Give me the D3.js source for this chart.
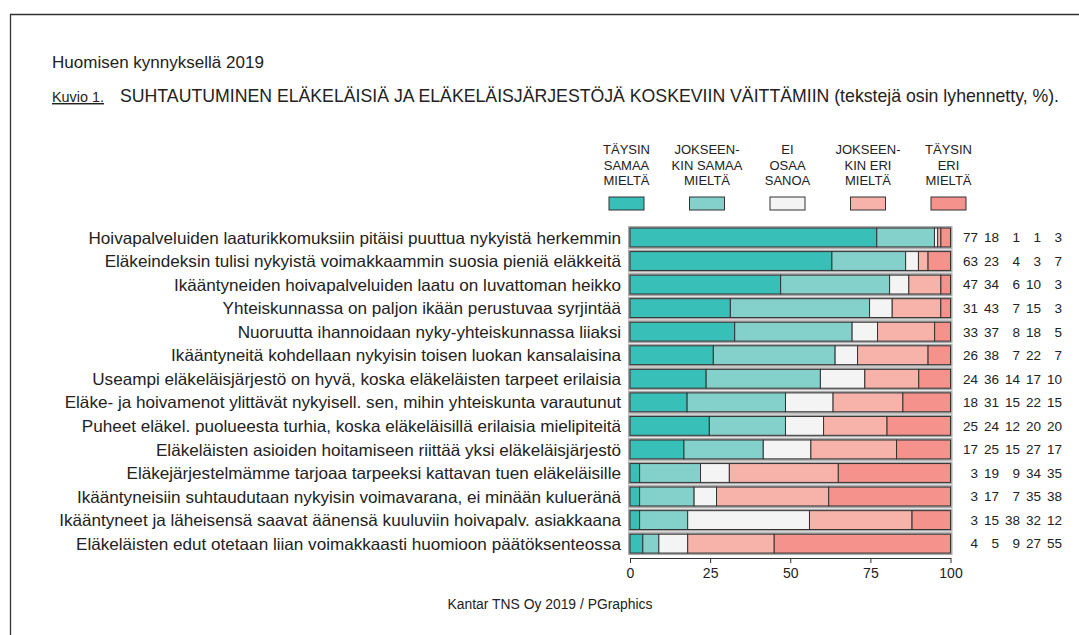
<!DOCTYPE html>
<html>
<head>
<meta charset="utf-8">
<script src="https://cdn.jsdelivr.net/npm/d3@7"></script>
<style>
  body { margin: 0; background: #fff; }
  text { font-family: "Liberation Sans", Arial, sans-serif; fill: #222; }
</style>
</head>
<body>
<div id="chart"></div>
<script>
// data
const statements = [
  "Hoivapalveluiden laaturikkomuksiin pitäisi puuttua nykyistä herkemmin",
  "Eläkeindeksin tulisi nykyistä voimakkaammin suosia pieniä eläkkeitä",
  "Ikääntyneiden hoivapalveluiden laatu on luvattoman heikko",
  "Yhteiskunnassa on paljon ikään perustuvaa syrjintää",
  "Nuoruutta ihannoidaan nyky-yhteiskunnassa liiaksi",
  "Ikääntyneitä kohdellaan nykyisin toisen luokan kansalaisina",
  "Useampi eläkeläisjärjestö on hyvä, koska eläkeläisten tarpeet erilaisia",
  "Eläke- ja hoivamenot ylittävät nykyisell. sen, mihin yhteiskunta varautunut",
  "Puheet eläkel. puolueesta turhia, koska eläkeläisillä erilaisia mielipiteitä",
  "Eläkeläisten asioiden hoitamiseen riittää yksi eläkeläisjärjestö",
  "Eläkejärjestelmämme tarjoaa tarpeeksi kattavan tuen eläkeläisille",
  "Ikääntyneisiin suhtaudutaan nykyisin voimavarana, ei minään kulueränä",
  "Ikääntyneet ja läheisensä saavat äänensä kuuluviin hoivapalv. asiakkaana",
  "Eläkeläisten edut otetaan liian voimakkaasti huomioon päätöksenteossa"
];
const taysinSamaa     = [77, 63, 47, 31, 33, 26, 24, 18, 25, 17,  3,  3,  3,  4];
const jokseenkinSamaa = [18, 23, 34, 43, 37, 38, 36, 31, 24, 25, 19, 17, 15,  5];
const eiOsaaSanoa     = [ 1,  4,  6,  7,  8,  7, 14, 15, 12, 15,  9,  7, 38,  9];
const jokseenkinEri   = [ 1,  3, 10, 15, 18, 22, 17, 22, 20, 27, 34, 35, 32, 27];
const taysinEri       = [ 3,  7,  3,  3,  5,  7, 10, 15, 20, 17, 35, 38, 12, 55];

const seriesKeys = ["ts", "js", "eos", "je", "te"];
const legendLabels = [
  ["TÄYSIN", "SAMAA", "MIELTÄ"],
  ["JOKSEEN-", "KIN SAMAA", "MIELTÄ"],
  ["EI", "OSAA", "SANOA"],
  ["JOKSEEN-", "KIN ERI", "MIELTÄ"],
  ["TÄYSIN", "ERI", "MIELTÄ"]
];
const colors = ["#38bfb7", "#84d1cc", "#f4f4f4", "#f7b3a9", "#f4928b"];
const axisTicks = [0, 25, 50, 75, 100];

const W = 1079, H = 635;

const svg = d3.select("#chart")
    .append("svg")
    .attr("width", W)
    .attr("height", H);

// frame (runs off the right and bottom edge)
svg.append("path")
    .attr("d", "M10.5," + H + "V14.5H" + W)
    .attr("fill", "none")
    .attr("stroke", "#333")
    .attr("stroke-width", 1.3);

// fit a text to a target width by adjusting font size
function fit(sel, target) {
  const fs = parseFloat(sel.attr("font-size"));
  const len = sel.node().getComputedTextLength();
  sel.attr("font-size", fs * target / len);
  return fs * target / len;
}

var sup = svg.append("text").attr("x", 52).attr("y", 68).attr("font-size", 16)
    .text("Huomisen kynnyksellä 2019");
fit(sup, 212);

var kuvio = svg.append("text").attr("x", 52).attr("y", 102).attr("font-size", 14)
    .attr("text-decoration", "underline")
    .text("Kuvio 1.");
fit(kuvio, 52);

var title = svg.append("text").attr("x", 120).attr("y", 102).attr("font-size", 15)
    .text("SUHTAUTUMINEN ELÄKELÄISIÄ JA ELÄKELÄISJÄRJESTÖJÄ KOSKEVIIN VÄITTÄMIIN (tekstejä osin lyhennetty, %).");
fit(title, 940);

// data table
const rows = statements.map((s, i) => ({
  label: s, ts: taysinSamaa[i], js: jokseenkinSamaa[i], eos: eiOsaaSanoa[i],
  je: jokseenkinEri[i], te: taysinEri[i]
}));
rows.forEach(d => {
  const sum = d3.sum(seriesKeys, k => d[k]);
  seriesKeys.forEach(k => d["n_" + k] = d[k] / sum * 100);
});

const x = d3.scaleLinear().domain([0, 100]).range([630, 950.5]);
const y = d3.scaleBand().domain(statements).range([225.7, 555.4])
    .paddingInner(0.2).paddingOuter(0.1);
const color = d3.scaleOrdinal().domain(seriesKeys).range(colors);

const stack = d3.stack().keys(seriesKeys.map(k => "n_" + k));
const stacked = stack(rows);

// legend
const lx = d3.scalePoint().domain(seriesKeys).range([626.5, 948.5]);
const leg = svg.append("g").selectAll("g").data(seriesKeys).enter().append("g");
leg.each(function(k, i) {
  const g = d3.select(this);
  legendLabels[i].forEach((line, j) => {
    g.append("text")
      .attr("x", lx(k))
      .attr("y", 154 + j * 15.5)
      .attr("text-anchor", "middle")
      .attr("font-size", 13)
      .text(line);
  });
  g.append("rect")
    .attr("x", lx(k) - 17.5)
    .attr("y", 197)
    .attr("width", 35)
    .attr("height", 13)
    .attr("fill", color(k))
    .attr("stroke", "#333")
    .attr("stroke-width", 1);
});

// bar backgrounds (light halo)
svg.append("g").selectAll("rect").data(rows).enter().append("rect")
    .attr("x", x(0) - 1)
    .attr("y", d => y(d.label) - 1)
    .attr("width", x(100) - x(0) + 2)
    .attr("height", y.bandwidth() + 2)
    .attr("fill", "none")
    .attr("stroke", "#aaa")
    .attr("stroke-width", 2);

// stacked bars
svg.append("g").selectAll("g").data(stacked).enter().append("g")
    .attr("fill", (d, i) => colors[i])
  .selectAll("rect").data(d => d).enter().append("rect")
    .attr("x", d => x(d[0]))
    .attr("y", d => y(d.data.label))
    .attr("width", d => x(d[1]) - x(d[0]))
    .attr("height", y.bandwidth())
    .attr("stroke", "#333")
    .attr("stroke-width", 1);

// row labels
const labels = svg.append("g").selectAll("text").data(rows).enter().append("text")
    .attr("x", 621)
    .attr("y", d => y(d.label) + y.bandwidth() / 2)
    .attr("dy", "0.36em")
    .attr("text-anchor", "end")
    .attr("font-size", 16)
    .text(d => d.label);
const fs = fit(labels.filter((d, i) => i === 0), 533);
labels.attr("font-size", fs);

// numbers at right
const numX = d3.scalePoint().domain(seriesKeys).range([978, 1062]);
seriesKeys.forEach(k => {
  svg.append("g").selectAll("text").data(rows).enter().append("text")
    .attr("x", numX(k))
    .attr("y", d => y(d.label) + y.bandwidth() / 2)
    .attr("dy", "0.36em")
    .attr("text-anchor", "end")
    .attr("font-size", 13.5)
    .text(d => d[k]);
});

// x axis
const axis = svg.append("g")
    .attr("transform", "translate(0,558)")
    .call(d3.axisBottom(x).tickValues(axisTicks).tickSize(5).tickSizeOuter(0).tickPadding(5));
axis.select(".domain").attr("stroke", "#333");
axis.selectAll(".tick line").attr("stroke", "#333");
axis.selectAll(".tick text")
    .attr("font-size", 14)
    .attr("fill", "#222")
    .style("font-family", "'Liberation Sans', Arial, sans-serif");

var foot = svg.append("text").attr("x", 550).attr("y", 609).attr("font-size", 13)
    .attr("text-anchor", "middle")
    .text("Kantar TNS Oy 2019 / PGraphics");
fit(foot, 205);
</script>
</body>
</html>
